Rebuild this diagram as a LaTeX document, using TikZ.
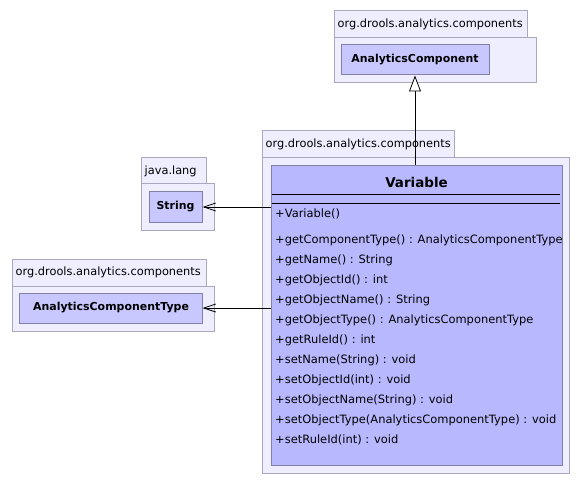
\documentclass[tikz,border=0pt]{standalone}
\usepackage{fontspec}
\setmainfont{DejaVu Sans}
\usetikzlibrary{arrows.meta}
\definecolor{pkgfill}{RGB}{238,238,255}
\definecolor{pkgline}{RGB}{168,168,192}
\definecolor{clsfill}{RGB}{200,200,255}
\definecolor{clsselfill}{RGB}{184,184,255}
\definecolor{clsline}{RGB}{128,128,168}
% UML package: tab (x1,y1)-(x2,y2), body (x1,y2)-(x3,y3), name in the tab
\newcommand{\umlpkg}[8]{%
  \draw[pkgshape] (#1,#2) rectangle (#4,#3);
  \draw[pkgshape] (#1,#3) rectangle (#5,#6);
  \node[pkglabel] (#7) at (#1+3.5,{(#2+#3)/2}) {#8};
}
\begin{document}
\begin{tikzpicture}[x=1bp,y=-1bp,
  pkgshape/.style={draw=pkgline, fill=pkgfill, line width=1bp},
  pkglabel/.style={anchor=west, inner sep=0pt, font=\fontsize{11.4}{13}\selectfont},
  cls/.style={draw=clsline, fill=clsfill, line width=1bp, inner sep=0pt,
    font=\bfseries\fontsize{11}{13}\selectfont},
  member/.style={anchor=west, inner sep=0pt, font=\fontsize{11.5}{13}\selectfont},
  gen/.style={draw=black, line width=0.8bp,
    -{Triangle[open, length=16bp, width=12bp, fill=white]}},
  dep/.style={draw=black, line width=0.8bp,
    -{Straight Barb[length=12bp, width=8bp]}}]
\useasboundingbox (0,0) rectangle (582,485);

% packages
\umlpkg{334}{11}{38}{527}{536}{83}{pkgA}{org.drools.analytics.components}
\umlpkg{262}{131}{158}{454}{569}{473}{pkgV}{org.drools.analytics.components}
\umlpkg{141}{158}{184}{206}{214}{230}{pkgJ}{java.lang}
\umlpkg{12}{259}{286}{206}{214}{331}{pkgT}{org.drools.analytics.components}

% classes
\node[cls, minimum width=148bp, minimum height=30bp] (ac) at (415,60) {AnalyticsComponent};
\node[cls, minimum width=53bp, minimum height=30bp] (str) at (175.5,207) {String};
\node[cls, minimum width=182bp, minimum height=30bp] (act) at (111,308) {AnalyticsComponentType};
\node[cls, fill=clsselfill, minimum width=291bp, minimum height=299bp] (var) at (416.5,315.5) {};

% Variable compartments
\node[font=\bfseries\fontsize{13.5}{16}\selectfont, inner sep=0pt] (vtitle) at (416.5,182) {Variable};
\coordinate (s1l) at (272,195);
\coordinate (s1r) at (560,195);
\coordinate (s2l) at (272,204);
\coordinate (s2r) at (560,204);
\draw[line width=1bp] (s1l) -- (s1r);
\draw[line width=1bp] (s2l) -- (s2r);

\node[member] (m0) at (275,214) {+Variable()};
\node[member] (m1) at (275,240) {+getComponentType() : AnalyticsComponentType};
\node[member] (m2) at (275,260) {+getName() : String};
\node[member] (m3) at (275,280) {+getObjectId() : int};
\node[member] (m4) at (275,300) {+getObjectName() : String};
\node[member] (m5) at (275,320) {+getObjectType() : AnalyticsComponentType};
\node[member] (m6) at (275,340) {+getRuleId() : int};
\node[member] (m7) at (275,360) {+setName(String) : void};
\node[member] (m8) at (275,380) {+setObjectId(int) : void};
\node[member] (m9) at (275,400) {+setObjectName(String) : void};
\node[member] (m10) at (275,420) {+setObjectType(AnalyticsComponentType) : void};
\node[member] (m11) at (275,440) {+setRuleId(int) : void};

% relations
\draw[gen] (var.north -| ac.south) -- (ac.south);
\draw[dep] (str.east -| var.west) -- (str.east);
\draw[dep] (act.east -| var.west) -- (act.east);
\end{tikzpicture}
\end{document}
